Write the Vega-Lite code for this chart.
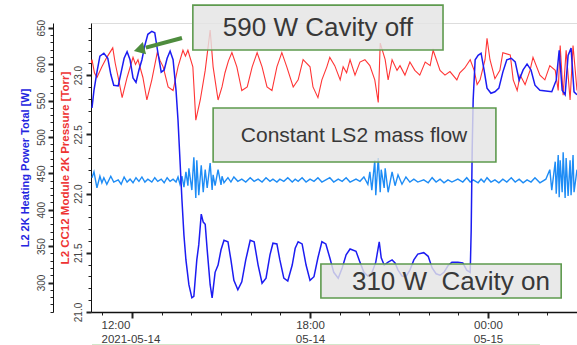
{
  "$schema": "https://vega.github.io/schema/vega-lite/v6.json",
  "width": 486,
  "height": 289,
  "autosize": {"type": "none"},
  "padding": {"left": 91, "top": 23, "right": 0, "bottom": 33},
  "background": "white",
  "config": {
    "view": {"stroke": "#dddddd"},
    "axis": {"labelFont": "Liberation Sans", "titleFont": "Liberation Sans", "grid": false, "domainColor": "#111111", "tickColor": "#222222", "labelColor": "#444444"}
  },
  "datasets": {
    "power": [
      {"t":"2021-05-14T10:39","W":540},{"t":"2021-05-14T10:43","W":564},{"t":"2021-05-14T10:49","W":589},{"t":"2021-05-14T10:55","W":611},
      {"t":"2021-05-14T11:03","W":615},{"t":"2021-05-14T11:11","W":608},{"t":"2021-05-14T11:17","W":586},{"t":"2021-05-14T11:23","W":571},
      {"t":"2021-05-14T11:32","W":570},{"t":"2021-05-14T11:38","W":589},{"t":"2021-05-14T11:44","W":608},{"t":"2021-05-14T11:50","W":617},
      {"t":"2021-05-14T11:56","W":606},{"t":"2021-05-14T12:02","W":581},{"t":"2021-05-14T12:08","W":575},{"t":"2021-05-14T12:14","W":592},
      {"t":"2021-05-14T12:20","W":606},{"t":"2021-05-14T12:26","W":626},{"t":"2021-05-14T12:32","W":641},{"t":"2021-05-14T12:40","W":645},
      {"t":"2021-05-14T12:46","W":643},{"t":"2021-05-14T12:52","W":617},{"t":"2021-05-14T12:59","W":589},{"t":"2021-05-14T13:05","W":592},
      {"t":"2021-05-14T13:11","W":608},{"t":"2021-05-14T13:17","W":618},{"t":"2021-05-14T13:23","W":606},{"t":"2021-05-14T13:29","W":564},
      {"t":"2021-05-14T13:33","W":523},{"t":"2021-05-14T13:37","W":468},{"t":"2021-05-14T13:41","W":413},{"t":"2021-05-14T13:45","W":365},
      {"t":"2021-05-14T13:49","W":331},{"t":"2021-05-14T13:55","W":297},{"t":"2021-05-14T14:01","W":279},{"t":"2021-05-14T14:05","W":281},
      {"t":"2021-05-14T14:11","W":331},{"t":"2021-05-14T14:15","W":352},{"t":"2021-05-14T14:20","W":394},{"t":"2021-05-14T14:24","W":383},
      {"t":"2021-05-14T14:28","W":380},{"t":"2021-05-14T14:32","W":345},{"t":"2021-05-14T14:38","W":297},{"t":"2021-05-14T14:42","W":279},
      {"t":"2021-05-14T14:48","W":314},{"t":"2021-05-14T14:54","W":324},{"t":"2021-05-14T15:00","W":345},{"t":"2021-05-14T15:06","W":358},
      {"t":"2021-05-14T15:14","W":356},{"t":"2021-05-14T15:20","W":331},{"t":"2021-05-14T15:26","W":303},{"t":"2021-05-14T15:34","W":290},
      {"t":"2021-05-14T15:42","W":301},{"t":"2021-05-14T15:50","W":331},{"t":"2021-05-14T15:59","W":358},{"t":"2021-05-14T16:07","W":356},
      {"t":"2021-05-14T16:15","W":324},{"t":"2021-05-14T16:23","W":299},{"t":"2021-05-14T16:31","W":306},{"t":"2021-05-14T16:39","W":338},
      {"t":"2021-05-14T16:45","W":354},{"t":"2021-05-14T16:53","W":353},{"t":"2021-05-14T16:59","W":331},{"t":"2021-05-14T17:07","W":306},
      {"t":"2021-05-14T17:15","W":302},{"t":"2021-05-14T17:24","W":324},{"t":"2021-05-14T17:30","W":347},{"t":"2021-05-14T17:36","W":356},
      {"t":"2021-05-14T17:44","W":353},{"t":"2021-05-14T17:52","W":324},{"t":"2021-05-14T18:00","W":303},{"t":"2021-05-14T18:08","W":308},
      {"t":"2021-05-14T18:16","W":334},{"t":"2021-05-14T18:24","W":356},{"t":"2021-05-14T18:32","W":353},{"t":"2021-05-14T18:40","W":334},
      {"t":"2021-05-14T18:48","W":314},{"t":"2021-05-14T18:57","W":306},{"t":"2021-05-14T19:05","W":320},{"t":"2021-05-14T19:13","W":338},
      {"t":"2021-05-14T19:21","W":346},{"t":"2021-05-14T19:33","W":343},{"t":"2021-05-14T19:41","W":328},{"t":"2021-05-14T19:49","W":314},
      {"t":"2021-05-14T19:57","W":309},{"t":"2021-05-14T20:05","W":313},{"t":"2021-05-14T20:13","W":328},{"t":"2021-05-14T20:20","W":356},
      {"t":"2021-05-14T20:24","W":334},{"t":"2021-05-14T20:30","W":324},{"t":"2021-05-14T20:38","W":328},{"t":"2021-05-14T20:46","W":331},
      {"t":"2021-05-14T20:52","W":327},{"t":"2021-05-14T20:58","W":317},{"t":"2021-05-14T21:06","W":309},{"t":"2021-05-14T21:14","W":308},
      {"t":"2021-05-14T21:22","W":317},{"t":"2021-05-14T21:30","W":331},{"t":"2021-05-14T21:38","W":339},{"t":"2021-05-14T21:50","W":341},
      {"t":"2021-05-14T21:59","W":336},{"t":"2021-05-14T22:07","W":320},{"t":"2021-05-14T22:15","W":312},{"t":"2021-05-14T22:23","W":310},
      {"t":"2021-05-14T22:31","W":314},{"t":"2021-05-14T22:39","W":323},{"t":"2021-05-14T22:47","W":328},{"t":"2021-05-14T22:59","W":328},
      {"t":"2021-05-14T23:09","W":327},{"t":"2021-05-14T23:17","W":317},{"t":"2021-05-14T23:24","W":314},{"t":"2021-05-14T23:26","W":372},
      {"t":"2021-05-14T23:28","W":482},{"t":"2021-05-14T23:30","W":551},{"t":"2021-05-14T23:34","W":606},{"t":"2021-05-14T23:40","W":612},
      {"t":"2021-05-14T23:46","W":615},{"t":"2021-05-14T23:52","W":592},{"t":"2021-05-14T23:58","W":567},{"t":"2021-05-15T00:06","W":560},
      {"t":"2021-05-15T00:14","W":562},{"t":"2021-05-15T00:22","W":567},{"t":"2021-05-15T00:30","W":589},{"t":"2021-05-15T00:38","W":606},
      {"t":"2021-05-15T00:47","W":608},{"t":"2021-05-15T00:55","W":603},{"t":"2021-05-15T01:03","W":578},{"t":"2021-05-15T01:11","W":592},
      {"t":"2021-05-15T01:19","W":600},{"t":"2021-05-15T01:27","W":592},{"t":"2021-05-15T01:35","W":571},{"t":"2021-05-15T01:45","W":564},
      {"t":"2021-05-15T01:57","W":563},{"t":"2021-05-15T02:09","W":562},{"t":"2021-05-15T02:18","W":578},{"t":"2021-05-15T02:24","W":619},
      {"t":"2021-05-15T02:30","W":564},{"t":"2021-05-15T02:36","W":558},{"t":"2021-05-15T02:42","W":612},{"t":"2021-05-15T02:48","W":622},
      {"t":"2021-05-15T02:54","W":562},{"t":"2021-05-15T03:00","W":558}
    ],
    "pressure": [
      {"t":"2021-05-14T10:37","p":23.10},
      {"t":"2021-05-14T10:39","p":23.13},{"t":"2021-05-14T10:44","p":23.02},{"t":"2021-05-14T10:49","p":22.98},{"t":"2021-05-14T10:59","p":23.07},{"t":"2021-05-14T11:09","p":23.15},
      {"t":"2021-05-14T11:21","p":23.23},{"t":"2021-05-14T11:26","p":23.10},{"t":"2021-05-14T11:32","p":22.98},{"t":"2021-05-14T11:40","p":22.81},{"t":"2021-05-14T11:50","p":22.98},
      {"t":"2021-05-14T12:02","p":23.15},{"t":"2021-05-14T12:07","p":23.09},{"t":"2021-05-14T12:12","p":23.13},{"t":"2021-05-14T12:22","p":22.98},{"t":"2021-05-14T12:30","p":22.79},
      {"t":"2021-05-14T12:40","p":22.96},{"t":"2021-05-14T12:51","p":23.19},{"t":"2021-05-14T12:57","p":23.12},{"t":"2021-05-14T13:03","p":23.07},{"t":"2021-05-14T13:13","p":22.90},
      {"t":"2021-05-14T13:23","p":22.87},{"t":"2021-05-14T13:33","p":23.07},{"t":"2021-05-14T13:43","p":23.21},{"t":"2021-05-14T13:48","p":23.16},{"t":"2021-05-14T13:53","p":23.21},
      {"t":"2021-05-14T14:03","p":23.07},{"t":"2021-05-14T14:09","p":22.62},{"t":"2021-05-14T14:18","p":22.79},{"t":"2021-05-14T14:28","p":23.04},
      {"t":"2021-05-14T14:38","p":23.38},{"t":"2021-05-14T14:44","p":23.07},{"t":"2021-05-14T14:54","p":22.79},{"t":"2021-05-14T15:02","p":22.90},
      {"t":"2021-05-14T15:08","p":23.02},{"t":"2021-05-14T15:15","p":23.12},{"t":"2021-05-14T15:22","p":23.19},{"t":"2021-05-14T15:32","p":23.07},{"t":"2021-05-14T15:42","p":22.87},
      {"t":"2021-05-14T15:53","p":22.90},{"t":"2021-05-14T16:03","p":23.07},{"t":"2021-05-14T16:13","p":23.19},{"t":"2021-05-14T16:18","p":23.13},{"t":"2021-05-14T16:23","p":23.07},
      {"t":"2021-05-14T16:33","p":22.90},{"t":"2021-05-14T16:43","p":22.87},{"t":"2021-05-14T16:53","p":23.07},{"t":"2021-05-14T17:03","p":23.19},
      {"t":"2021-05-14T17:13","p":23.07},{"t":"2021-05-14T17:26","p":22.90},{"t":"2021-05-14T17:36","p":22.96},{"t":"2021-05-14T17:46","p":23.13},
      {"t":"2021-05-14T18:00","p":23.07},{"t":"2021-05-14T18:06","p":22.90},{"t":"2021-05-14T18:16","p":22.81},{"t":"2021-05-14T18:24","p":22.96},
      {"t":"2021-05-14T18:34","p":23.07},{"t":"2021-05-14T18:40","p":23.15},{"t":"2021-05-14T18:50","p":23.08},{"t":"2021-05-14T19:01","p":22.96},
      {"t":"2021-05-14T19:07","p":23.07},{"t":"2021-05-14T19:14","p":23.02},{"t":"2021-05-14T19:21","p":23.13},{"t":"2021-05-14T19:31","p":23.00},{"t":"2021-05-14T19:41","p":23.11},
      {"t":"2021-05-14T19:51","p":23.13},{"t":"2021-05-14T20:01","p":23.08},{"t":"2021-05-14T20:11","p":22.96},{"t":"2021-05-14T20:18","p":22.77},
      {"t":"2021-05-14T20:22","p":23.27},{"t":"2021-05-14T20:32","p":23.13},{"t":"2021-05-14T20:38","p":22.96},{"t":"2021-05-14T20:46","p":23.13},
      {"t":"2021-05-14T20:56","p":23.04},{"t":"2021-05-14T21:02","p":23.08},{"t":"2021-05-14T21:12","p":23.00},{"t":"2021-05-14T21:22","p":23.11},
      {"t":"2021-05-14T21:32","p":23.04},{"t":"2021-05-14T21:42","p":23.00},{"t":"2021-05-14T21:53","p":23.11},{"t":"2021-05-14T22:03","p":23.08},
      {"t":"2021-05-14T22:09","p":23.21},{"t":"2021-05-14T22:23","p":23.04},{"t":"2021-05-14T22:33","p":23.00},{"t":"2021-05-14T22:43","p":23.03},
      {"t":"2021-05-14T22:57","p":22.96},{"t":"2021-05-14T23:03","p":23.02},{"t":"2021-05-14T23:13","p":23.06},{"t":"2021-05-14T23:24","p":23.13},
      {"t":"2021-05-14T23:32","p":23.04},{"t":"2021-05-14T23:38","p":22.92},{"t":"2021-05-14T23:44","p":22.96},{"t":"2021-05-14T23:54","p":23.13},
      {"t":"2021-05-14T23:58","p":23.31},{"t":"2021-05-15T00:04","p":23.13},{"t":"2021-05-15T00:14","p":22.97},{"t":"2021-05-15T00:24","p":23.04},
      {"t":"2021-05-15T00:30","p":23.19},{"t":"2021-05-15T00:45","p":23.17},{"t":"2021-05-15T00:51","p":22.96},{"t":"2021-05-15T00:59","p":22.87},
      {"t":"2021-05-15T01:05","p":23.00},{"t":"2021-05-15T01:15","p":22.92},{"t":"2021-05-15T01:25","p":23.04},{"t":"2021-05-15T01:31","p":23.15},
      {"t":"2021-05-15T01:45","p":23.00},{"t":"2021-05-15T01:55","p":22.96},{"t":"2021-05-15T02:05","p":23.08},{"t":"2021-05-15T02:16","p":23.04},
      {"t":"2021-05-15T02:22","p":22.87},{"t":"2021-05-15T02:26","p":23.25},{"t":"2021-05-15T02:32","p":22.83},{"t":"2021-05-15T02:38","p":23.21},
      {"t":"2021-05-15T02:46","p":22.79},{"t":"2021-05-15T02:52","p":23.25},{"t":"2021-05-15T03:00","p":22.87}
    ],
    "flow": [
      {"t":"2021-05-14T10:39","W":444},{"t":"2021-05-14T10:43","W":452},{"t":"2021-05-14T10:49","W":430},{"t":"2021-05-14T10:55","W":446},
      {"t":"2021-05-14T10:59","W":437},{"t":"2021-05-14T11:03","W":444},{"t":"2021-05-14T11:09","W":435},{"t":"2021-05-14T11:17","W":446},
      {"t":"2021-05-14T11:23","W":438},{"t":"2021-05-14T11:32","W":441},{"t":"2021-05-14T11:38","W":435},{"t":"2021-05-14T11:44","W":445},
      {"t":"2021-05-14T11:50","W":438},{"t":"2021-05-14T11:56","W":442},{"t":"2021-05-14T12:02","W":437},{"t":"2021-05-14T12:08","W":444},
      {"t":"2021-05-14T12:14","W":439},{"t":"2021-05-14T12:20","W":445},{"t":"2021-05-14T12:26","W":438},{"t":"2021-05-14T12:32","W":442},
      {"t":"2021-05-14T12:40","W":438},{"t":"2021-05-14T12:46","W":444},{"t":"2021-05-14T12:52","W":439},{"t":"2021-05-14T12:59","W":442},
      {"t":"2021-05-14T13:05","W":437},{"t":"2021-05-14T13:11","W":444},{"t":"2021-05-14T13:17","W":439},{"t":"2021-05-14T13:23","W":442},
      {"t":"2021-05-14T13:29","W":438},{"t":"2021-05-14T13:33","W":445},{"t":"2021-05-14T13:37","W":435},{"t":"2021-05-14T13:41","W":446},
      {"t":"2021-05-14T13:45","W":431},{"t":"2021-05-14T13:49","W":452},{"t":"2021-05-14T13:53","W":433},{"t":"2021-05-14T13:55","W":457},
      {"t":"2021-05-14T14:01","W":427},{"t":"2021-05-14T14:05","W":472},{"t":"2021-05-14T14:09","W":416},{"t":"2021-05-14T14:11","W":468},
      {"t":"2021-05-14T14:15","W":420},{"t":"2021-05-14T14:20","W":461},{"t":"2021-05-14T14:24","W":424},{"t":"2021-05-14T14:28","W":455},
      {"t":"2021-05-14T14:32","W":430},{"t":"2021-05-14T14:38","W":464},{"t":"2021-05-14T14:42","W":427},{"t":"2021-05-14T14:44","W":448},
      {"t":"2021-05-14T14:48","W":433},{"t":"2021-05-14T14:54","W":455},{"t":"2021-05-14T15:00","W":434},{"t":"2021-05-14T15:02","W":446},
      {"t":"2021-05-14T15:06","W":437},{"t":"2021-05-14T15:14","W":444},{"t":"2021-05-14T15:20","W":438},{"t":"2021-05-14T15:26","W":445},
      {"t":"2021-05-14T15:34","W":439},{"t":"2021-05-14T15:42","W":442},{"t":"2021-05-14T15:50","W":438},{"t":"2021-05-14T15:59","W":444},
      {"t":"2021-05-14T16:07","W":439},{"t":"2021-05-14T16:15","W":442},{"t":"2021-05-14T16:23","W":438},{"t":"2021-05-14T16:31","W":444},
      {"t":"2021-05-14T16:39","W":439},{"t":"2021-05-14T16:45","W":442},{"t":"2021-05-14T16:53","W":438},{"t":"2021-05-14T16:59","W":442},
      {"t":"2021-05-14T17:07","W":439},{"t":"2021-05-14T17:15","W":444},{"t":"2021-05-14T17:24","W":438},{"t":"2021-05-14T17:30","W":442},
      {"t":"2021-05-14T17:36","W":439},{"t":"2021-05-14T17:44","W":444},{"t":"2021-05-14T17:52","W":438},{"t":"2021-05-14T18:00","W":442},
      {"t":"2021-05-14T18:08","W":439},{"t":"2021-05-14T18:16","W":444},{"t":"2021-05-14T18:24","W":438},{"t":"2021-05-14T18:32","W":441},
      {"t":"2021-05-14T18:40","W":444},{"t":"2021-05-14T18:48","W":438},{"t":"2021-05-14T18:57","W":442},{"t":"2021-05-14T19:05","W":439},
      {"t":"2021-05-14T19:13","W":444},{"t":"2021-05-14T19:21","W":438},{"t":"2021-05-14T19:33","W":442},{"t":"2021-05-14T19:41","W":439},
      {"t":"2021-05-14T19:49","W":445},{"t":"2021-05-14T19:57","W":435},{"t":"2021-05-14T20:01","W":452},{"t":"2021-05-14T20:05","W":427},
      {"t":"2021-05-14T20:11","W":468},{"t":"2021-05-14T20:13","W":420},{"t":"2021-05-14T20:18","W":471},{"t":"2021-05-14T20:22","W":424},
      {"t":"2021-05-14T20:24","W":455},{"t":"2021-05-14T20:30","W":430},{"t":"2021-05-14T20:32","W":457},{"t":"2021-05-14T20:38","W":424},
      {"t":"2021-05-14T20:46","W":452},{"t":"2021-05-14T20:52","W":433},{"t":"2021-05-14T20:58","W":448},{"t":"2021-05-14T21:06","W":435},
      {"t":"2021-05-14T21:14","W":445},{"t":"2021-05-14T21:22","W":438},{"t":"2021-05-14T21:30","W":442},{"t":"2021-05-14T21:38","W":438},
      {"t":"2021-05-14T21:50","W":441},{"t":"2021-05-14T21:59","W":437},{"t":"2021-05-14T22:07","W":444},{"t":"2021-05-14T22:15","W":438},
      {"t":"2021-05-14T22:23","W":442},{"t":"2021-05-14T22:31","W":437},{"t":"2021-05-14T22:39","W":441},{"t":"2021-05-14T22:47","W":438},
      {"t":"2021-05-14T22:59","W":442},{"t":"2021-05-14T23:09","W":438},{"t":"2021-05-14T23:17","W":444},{"t":"2021-05-14T23:24","W":438},
      {"t":"2021-05-14T23:30","W":441},{"t":"2021-05-14T23:40","W":437},{"t":"2021-05-14T23:46","W":442},{"t":"2021-05-14T23:52","W":438},
      {"t":"2021-05-14T23:58","W":444},{"t":"2021-05-15T00:06","W":438},{"t":"2021-05-15T00:14","W":441},{"t":"2021-05-15T00:22","W":437},
      {"t":"2021-05-15T00:30","W":442},{"t":"2021-05-15T00:38","W":438},{"t":"2021-05-15T00:47","W":444},{"t":"2021-05-15T00:55","W":438},
      {"t":"2021-05-15T01:03","W":442},{"t":"2021-05-15T01:11","W":437},{"t":"2021-05-15T01:19","W":441},{"t":"2021-05-15T01:27","W":438},
      {"t":"2021-05-15T01:35","W":444},{"t":"2021-05-15T01:45","W":437},{"t":"2021-05-15T01:57","W":442},{"t":"2021-05-15T02:05","W":455},
      {"t":"2021-05-15T02:09","W":427},{"t":"2021-05-15T02:16","W":466},{"t":"2021-05-15T02:18","W":422},{"t":"2021-05-15T02:22","W":475},
      {"t":"2021-05-15T02:24","W":417},{"t":"2021-05-15T02:26","W":468},{"t":"2021-05-15T02:30","W":424},{"t":"2021-05-15T02:32","W":479},
      {"t":"2021-05-15T02:36","W":416},{"t":"2021-05-15T02:38","W":471},{"t":"2021-05-15T02:42","W":419},{"t":"2021-05-15T02:46","W":468},
      {"t":"2021-05-15T02:48","W":420},{"t":"2021-05-15T02:52","W":475},{"t":"2021-05-15T02:54","W":424},{"t":"2021-05-15T03:00","W":455}
    ],
    "boxes": [
      {"t": "2021-05-14T14:03", "t2": "2021-05-14T22:29", "W": 681, "W2": 619.4},
      {"t": "2021-05-14T14:44", "t2": "2021-05-15T00:16", "W": 539.7, "W2": 465.5},
      {"t": "2021-05-14T18:22", "t2": "2021-05-15T02:28", "W": 325.4, "W2": 278.7}
    ],
    "labels": [
      {"t": "2021-05-14T18:16", "W": 649.6, "label": "590 W Cavity off", "kind": "big"},
      {"t": "2021-05-14T19:29", "W": 501, "label": "Constant LS2 mass flow", "kind": "small"},
      {"t": "2021-05-14T22:45", "W": 300.7, "label": "310 W\u00a0 Cavity on", "kind": "big"}
    ],
    "arrow": [
      {"t": "2021-05-14T13:41", "t2": "2021-05-14T12:28", "W": 635.9, "W2": 622.6}
    ],
    "arrowhead": [
      {"t": "2021-05-14T12:18", "W": 620.7}
    ],
    "edge": [
      {"t": "2021-05-14T10:39", "t2": "2021-05-15T01:45", "W": 214.2}
    ]
  },
  "layer": [
    {
      "data": {"name": "pressure"},
      "mark": {"type": "line", "color": "#ff3535", "strokeWidth": 1.1, "clip": true},
      "encoding": {
        "x": {
          "field": "t",
          "type": "temporal",
          "axis": {
            "title": null,
            "tickCount": 17,
            "labelExpr": "hours(datum.value) === 12 ? ['12:00', '2021-05-14'] : (hours(datum.value) % 6 === 0 ? [timeFormat(datum.value, '%H:%M'), timeFormat(datum.value, '%m-%d')] : '')",
            "labelAlign": {"condition": {"test": "hours(datum.value) === 12", "value": "left"}, "value": "center"},
            "labelOffset": {"condition": {"test": "hours(datum.value) === 12", "value": -31}, "value": 0},
            "labelOverlap": false,
            "labelFlush": false,
            "labelFontSize": 11.5,
            "labelColor": "#3a3a3a",
            "labelLineHeight": 14,
            "labelPadding": 1,
            "domainWidth": 1.3,
            "tickSize": {"condition": {"test": "hours(datum.value) % 6 === 0", "value": 6}, "value": 3},
            "tickWidth": {"condition": {"test": "hours(datum.value) % 6 === 0", "value": 2}, "value": 1}
          }
        },
        "y": {
          "field": "p",
          "type": "quantitative",
          "scale": {"domain": [21.0, 23.44], "nice": false, "zero": false},
          "axis": {
            "orient": "left",
            "values": [21.0,21.1,21.2,21.3,21.4,21.5,21.6,21.7,21.8,21.9,22.0,22.1,22.2,22.3,22.4,22.5,22.6,22.7,22.8,22.9,23.0,23.1,23.2,23.3,23.4],
            "labelExpr": "round(datum.value * 10) % 5 === 0 ? format(datum.value, '.1f') : ''",
            "labelAngle": -90,
            "labelFontSize": 10,
            "labelPadding": 3,
            "labelOverlap": false,
            "tickSize": {"condition": {"test": "round(datum.value * 10) % 5 === 0", "value": 5}, "value": 3},
            "tickWidth": {"condition": {"test": "round(datum.value * 10) % 5 === 0", "value": 2}, "value": 1},
            "title": "L2 CC12 Module 2K Pressure [Torr]",
            "titleColor": "#ee3333",
            "titleFontSize": 11.5,
            "titleFontWeight": "bold",
            "titlePadding": 3
          }
        }
      }
    },
    {
      "data": {"name": "flow"},
      "mark": {"type": "line", "color": "#1e8cf5", "strokeWidth": 1.4, "clip": true},
      "encoding": {
        "x": {"field": "t", "type": "temporal"},
        "y": {"field": "W", "type": "quantitative", "scale": {"domain": [259.5, 656.5], "nice": false, "zero": false}, "axis": null}
      }
    },
    {
      "data": {"name": "power"},
      "mark": {"type": "line", "color": "#1c1cf2", "strokeWidth": 1.5, "clip": true},
      "encoding": {
        "x": {"field": "t", "type": "temporal"},
        "y": {
          "field": "W",
          "type": "quantitative",
          "scale": {"domain": [259.5, 656.5], "nice": false, "zero": false},
          "axis": {
            "orient": "left",
            "offset": 38,
            "values": [260,270,280,290,300,310,320,330,340,350,360,370,380,390,400,410,420,430,440,450,460,470,480,490,500,510,520,530,540,550,560,570,580,590,600,610,620,630,640,650],
            "labelExpr": "datum.value % 50 === 0 ? format(datum.value, 'd') : ''",
            "labelAngle": -90,
            "labelFontSize": 10,
            "labelPadding": 2,
            "labelOverlap": false,
            "tickSize": {"condition": {"test": "datum.value % 50 === 0", "value": 5}, "value": 3},
            "tickWidth": {"condition": {"test": "datum.value % 50 === 0", "value": 2}, "value": 1},
            "title": "L2 2K Heating Power Total [W]",
            "titleColor": "#2525e0",
            "titleFontSize": 11,
            "titleFontWeight": "bold",
            "titlePadding": 6
          }
        }
      }
    },
    {
      "data": {"name": "edge"},
      "mark": {"type": "rule", "color": "#c4dfb8", "strokeWidth": 1.5},
      "encoding": {
        "x": {"field": "t", "type": "temporal"},
        "x2": {"field": "t2"},
        "y": {"field": "W", "type": "quantitative", "scale": {"domain": [259.5, 656.5], "nice": false, "zero": false}, "axis": null}
      }
    },
    {
      "data": {"name": "boxes"},
      "mark": {"type": "rect", "fill": "#e4e4e4", "fillOpacity": 0.82, "stroke": "#5e9a4e", "strokeWidth": 1.6},
      "encoding": {
        "x": {"field": "t", "type": "temporal"},
        "x2": {"field": "t2"},
        "y": {"field": "W", "type": "quantitative", "scale": {"domain": [259.5, 656.5], "nice": false, "zero": false}, "axis": null},
        "y2": {"field": "W2"}
      }
    },
    {
      "data": {"name": "labels"},
      "mark": {"type": "text", "font": "Liberation Sans", "color": "#383838", "align": "center", "baseline": "middle"},
      "encoding": {
        "x": {"field": "t", "type": "temporal"},
        "y": {"field": "W", "type": "quantitative", "scale": {"domain": [259.5, 656.5], "nice": false, "zero": false}, "axis": null},
        "text": {"field": "label"},
        "size": {"field": "kind", "type": "nominal", "scale": {"domain": ["big", "small"], "range": [26, 21]}, "legend": null}
      }
    },
    {
      "data": {"name": "arrow"},
      "mark": {"type": "rule", "color": "#4e8c3e", "strokeWidth": 4},
      "encoding": {
        "x": {"field": "t", "type": "temporal"},
        "x2": {"field": "t2"},
        "y": {"field": "W", "type": "quantitative", "scale": {"domain": [259.5, 656.5], "nice": false, "zero": false}, "axis": null},
        "y2": {"field": "W2"}
      }
    },
    {
      "data": {"name": "arrowhead"},
      "mark": {"type": "point", "shape": "triangle", "size": 160, "angle": 255, "filled": true, "color": "#4e8c3e", "opacity": 1},
      "encoding": {
        "x": {"field": "t", "type": "temporal"},
        "y": {"field": "W", "type": "quantitative", "scale": {"domain": [259.5, 656.5], "nice": false, "zero": false}, "axis": null}
      }
    }
  ],
  "resolve": {"scale": {"y": "independent"}}
}
